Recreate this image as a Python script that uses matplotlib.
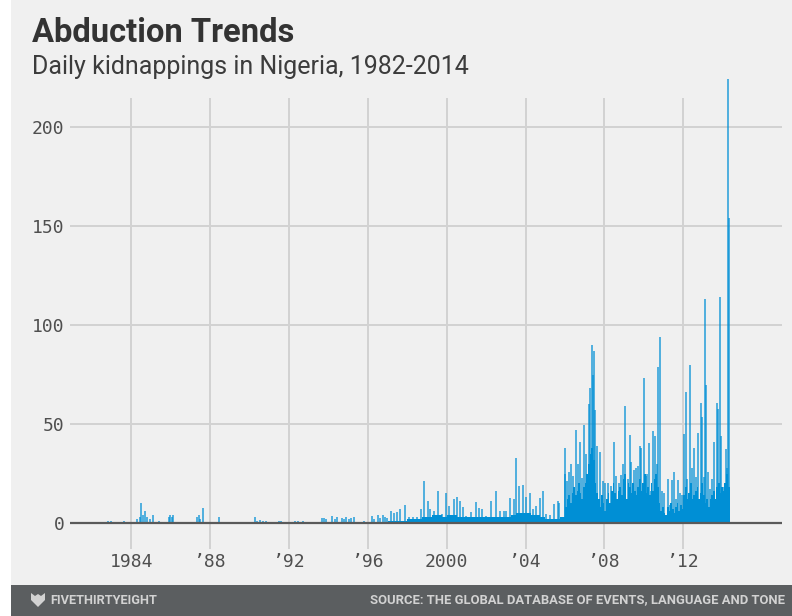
import matplotlib
matplotlib.use("Agg")
import matplotlib.pyplot as plt
from matplotlib import font_manager
from matplotlib.patches import Rectangle, Polygon

# ---------------- data ----------------
early_dates = [1982.85, 1983.0, 1983.65, 1984.29, 1984.45, 1984.52, 1984.62, 1984.7, 1984.78,
               1984.95, 1985.13, 1985.42, 1985.9, 1985.97, 1986.05, 1986.12, 1987.35, 1987.42,
               1987.5, 1987.62, 1988.47, 1990.26, 1990.4, 1990.55, 1990.7, 1990.85, 1991.5,
               1991.6, 1992.3, 1992.45, 1992.7, 1993.7, 1993.8, 1993.9, 1994.2, 1994.35,
               1994.45, 1994.7, 1994.8, 1994.9, 1995.05, 1995.15, 1995.3, 1995.8, 1996.2,
               1996.3, 1996.5, 1996.6, 1996.75, 1996.85, 1996.95, 1997.18, 1997.35, 1997.5,
               1997.65, 1997.9]
early_values = [1, 1, 1, 2, 3, 10, 4, 6, 3,
                2, 4, 1, 3, 4, 3, 4, 3, 4,
                2, 7.5, 3, 3, 1, 1.5, 1, 1, 1,
                1, 1, 1, 1, 2.5, 2.5, 2, 3.4, 2,
                3, 2.5, 2, 3, 2, 2.5, 3, 1, 3.4,
                2, 4, 2.4, 4, 3, 2.5, 6.2, 5, 5.5,
                7, 9]

mid_dates = [1998.1, 1998.3, 1998.5, 1998.7, 1998.84, 1999.05, 1999.16, 1999.38, 1999.57,
             1999.77, 1999.97, 2000.14, 2000.35, 2000.53, 2000.65, 2000.82, 2000.99, 2001.24,
             2001.46, 2001.63, 2001.78, 2002.0, 2002.26, 2002.48, 2002.68, 2002.88, 2003.02,
             2003.22, 2003.39, 2003.53, 2003.66, 2003.86, 2004.04, 2004.2, 2004.37, 2004.54,
             2004.71, 2004.88, 2005.05, 2005.22, 2005.42, 2005.64, 2005.69]
mid_values = [3, 3, 3, 7, 21, 11.3, 7, 6, 16.3,
              4.5, 15.2, 8.8, 12, 13, 11.3, 8, 3.7, 5.4,
              10.4, 7.4, 7, 3.7, 11.3, 16.3, 6.2, 6.2, 6.2,
              12.5, 12.1, 33, 18.9, 19.2, 13, 15.2, 7, 8.8,
              12.5, 16.3, 4.5, 4, 9.6, 11.3, 10]

late_dates = [2005.98, 2006.02, 2006.1, 2006.2, 2006.32, 2006.4, 2006.57, 2006.65, 2006.74,
              2006.85, 2006.96, 2007.05, 2007.2, 2007.27, 2007.35, 2007.42, 2007.47, 2007.53,
              2007.62, 2007.76, 2007.9, 2008.02, 2008.18, 2008.35, 2008.48, 2008.6, 2008.75,
              2008.85, 2008.95, 2009.06, 2009.2, 2009.28, 2009.36, 2009.5, 2009.6, 2009.72,
              2009.82, 2009.87, 2009.99, 2010.08, 2010.16, 2010.26, 2010.36, 2010.47, 2010.56,
              2010.64, 2010.72, 2010.8, 2010.9, 2011.0, 2011.2, 2011.32, 2011.42, 2011.52,
              2011.62, 2011.72, 2011.82, 2011.92, 2012.04, 2012.12, 2012.2, 2012.36, 2012.44,
              2012.52, 2012.64, 2012.75, 2012.87, 2012.94, 2013.02, 2013.1, 2013.15, 2013.25,
              2013.35, 2013.45, 2013.55, 2013.68, 2013.76, 2013.85, 2013.92, 2014.05, 2014.15,
              2014.2, 2014.26, 2014.29]
late_values = [38, 25, 21, 26, 30, 24, 47, 30, 41,
               22.7, 49.7, 35, 60, 68, 90, 75, 87, 57,
               39, 36, 21, 20, 20, 18.5, 40.7, 23.6, 20,
               24.4, 30, 59, 22, 44.6, 31, 27, 28, 29,
               38.7, 38, 73, 24, 25, 40.4, 16, 46.5, 44,
               30, 79, 94, 16, 15, 22.4, 9, 21.5, 25.8,
               12, 21.5, 15, 14, 45, 66, 22, 80, 28,
               38, 23, 45.5, 60.6, 53.5, 23, 113, 69.5, 26,
               17, 22, 41, 60.6, 57.7, 114, 44, 18, 37.5,
               28, 224, 154]

# background (typical daily) level: quarterly 1997-2005, monthly 2006 - Apr 2014
base_quarterly = [1, 1, 1, 1,      # 1997
                  2, 2, 2, 3,      # 1998
                  3, 4, 4, 3,      # 1999
                  4, 4, 3, 3,      # 2000
                  3, 3, 3, 3,      # 2001
                  3, 3, 3, 3,      # 2002
                  3, 4, 5, 5,      # 2003
                  5, 4, 4, 3,      # 2004
                  2, 2, 2, 3]      # 2005
base_monthly = [8, 12, 14, 10, 15, 18, 14, 16, 20, 15, 12, 18,    # 2006
                20, 25, 30, 35, 38, 32, 20, 15, 12, 8, 14, 10,    # 2007
                6, 12, 15, 10, 16, 20, 15, 12, 16, 18, 14, 22,    # 2008
                25, 12, 20, 18, 15, 20, 16, 14, 18, 22, 16, 20,   # 2009
                25, 15, 18, 14, 20, 16, 22, 25, 18, 10, 6, 8,     # 2010
                5, 4, 8, 6, 10, 7, 5, 8, 10, 6, 9, 7,             # 2011
                14, 18, 12, 15, 20, 12, 14, 16, 18, 12, 15, 20,   # 2012
                14, 10, 12, 8, 12, 14, 16, 12, 18, 20, 15, 18,    # 2013
                16, 20, 25, 18]                                   # 2014
quarterly_start = 1997.0
monthly_start = 2006.0
series_end = 2014.36

x_ticks = [1984, 1988, 1992, 1996, 2000, 2004, 2008, 2012]
x_labels = ["1984", "\u201988", "\u201992", "\u201996", "2000", "\u201904", "\u201908", "\u201912"]
y_ticks = [0, 50, 100, 150, 200]

title = "Abduction Trends"
subtitle = "Daily kidnappings in Nigeria, 1982-2014"
brand = "FIVETHIRTYEIGHT"
source = "SOURCE: THE GLOBAL DATABASE OF EVENTS, LANGUAGE AND TONE"

# ---------------- styling ----------------
BG = "#f0f0f0"
BLUE = "#008fd5"
GRID = "#d2d2d2"
FOOT = "#d2d2d2"
names = {f.name for f in font_manager.fontManager.ttflist}
sans = "Roboto" if "Roboto" in names else "DejaVu Sans"
narrow = "Liberation Sans Narrow" if "Liberation Sans Narrow" in names else (
    "Roboto" if "Roboto" in names else "DejaVu Sans")
mono = "DejaVu Sans Mono"

W, H = 792, 616
fig = plt.figure(figsize=(W / 100, H / 100), dpi=100, facecolor="white")
fig.patches.append(Rectangle((11 / W, 31 / H), 1 - 11 / W, 1 - 31 / H,
                             transform=fig.transFigure, facecolor=BG, edgecolor="none", zorder=-10))
fig.patches.append(Rectangle((11 / W, 0), 1 - 11 / W, 31 / H,
                             transform=fig.transFigure, facecolor="#5b5e60", edgecolor="none", zorder=-10))

ax_left, ax_right = 70 / W, 782 / W
ax_bottom, ax_top = 1 - 549 / H, 1 - 98 / H
ax = fig.add_axes([ax_left, ax_bottom, ax_right - ax_left, ax_top - ax_bottom])
ax.set_facecolor("none")
ax.set_xlim(1980.9, 2017.0)
ax.set_ylim(-13.1, 214.6)
for s in ax.spines.values():
    s.set_visible(False)

# grid
for yv in y_ticks[1:]:
    ax.axhline(yv, color=GRID, lw=1.4, zorder=0)
for xv in x_ticks:
    ax.axvline(xv, color=GRID, lw=1.4, zorder=0)

# data
q_edges = [quarterly_start + 0.25 * i for i in range(len(base_quarterly) + 1)]
m_edges = [monthly_start + i / 12 for i in range(len(base_monthly))] + [series_end]
ax.stairs(base_quarterly, q_edges, fill=True, color=BLUE, linewidth=0, zorder=2, baseline=0)
ax.stairs(base_monthly, m_edges, fill=True, color=BLUE, linewidth=0, zorder=2, baseline=0)
ax.vlines(early_dates + mid_dates + late_dates, 0, early_values + mid_values + late_values,
          color=BLUE, lw=1.1, alpha=0.85, zorder=3, clip_on=False)

ax.axhline(0, color="#5a5a5a", lw=1.6, zorder=4)

ax.set_xticks(x_ticks)
ax.set_xticklabels(x_labels)
ax.set_yticks(y_ticks)
ax.tick_params(axis="both", length=0, labelsize=13, labelcolor="#4f4f4f")
ax.tick_params(axis="y", pad=4)
ax.tick_params(axis="x", pad=3)
for lab in ax.get_xticklabels() + ax.get_yticklabels():
    lab.set_fontfamily(mono)

# titles
fig.text(32 / W, 1 - 42 / H, title, fontsize=23.6, fontweight="bold", color="#333333",
         family=sans, va="baseline", ha="left")
fig.text(32 / W, 1 - 74 / H, subtitle, fontsize=18, color="#3c3c3c",
         family=sans, va="baseline", ha="left")

# footer
t_brand = fig.text(50 / W, 1 - 600 / H, brand, fontsize=10.5, fontweight="bold", color=FOOT,
                   family=narrow, va="center", ha="left")
t_src = fig.text(785 / W, 1 - 600 / H, source, fontsize=10.5, fontweight="bold", color=FOOT,
                 family=narrow, va="center", ha="right")
# fit footer texts to the widths seen in the reference
renderer = fig.canvas.get_renderer()
for t, target in ((t_brand, 108), (t_src, 413)):
    w = t.get_window_extent(renderer).width
    t.set_fontsize(t.get_fontsize() * target / w)

logo = [(31, 593), (35, 596), (38, 594), (41, 596), (45, 593), (45, 600), (38, 607), (31, 600)]
fig.patches.append(Polygon([(x / W, 1 - y / H) for x, y in logo], closed=True,
                           transform=fig.transFigure, facecolor=FOOT, edgecolor="none"))

fig.savefig("out.png", dpi=100, facecolor=fig.get_facecolor())
